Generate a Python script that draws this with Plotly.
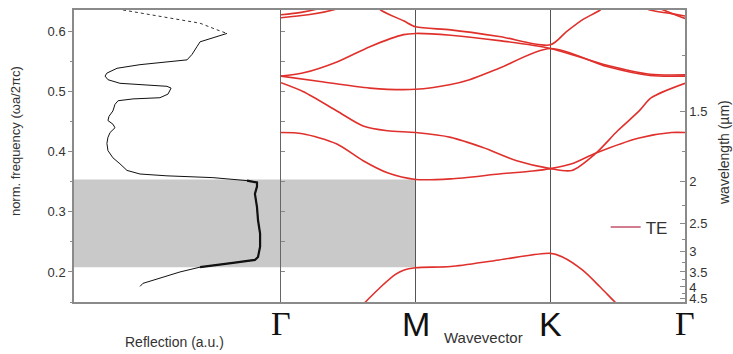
import plotly.graph_objects as go

# ---------------- data ----------------
# Reflection spectrum (arbitrary units) vs normalized frequency
refl_val = [0.237, 0.367, 0.478, 0.609, 0.691, 0.739, 0.671, 0.609, 0.594, 0.570, 0.546,
            0.449, 0.319, 0.208, 0.159, 0.150, 0.164, 0.222, 0.352, 0.449, 0.469, 0.454,
            0.415, 0.285, 0.213, 0.198, 0.188, 0.169, 0.164, 0.188, 0.198, 0.174, 0.164,
            0.159, 0.164, 0.188, 0.222, 0.256, 0.319, 0.449, 0.671, 0.836, 0.884, 0.884,
            0.874, 0.884, 0.889, 0.899, 0.899, 0.889, 0.874, 0.768, 0.609, 0.512, 0.415,
            0.333, 0.319]
refl_freq = [0.636, 0.628, 0.622, 0.614, 0.603, 0.597, 0.589, 0.583, 0.575, 0.562, 0.553,
             0.550, 0.545, 0.539, 0.531, 0.526, 0.520, 0.514, 0.511, 0.509, 0.506, 0.496,
             0.490, 0.488, 0.485, 0.479, 0.468, 0.459, 0.452, 0.446, 0.440, 0.432, 0.424,
             0.414, 0.402, 0.390, 0.380, 0.369, 0.363, 0.360, 0.357, 0.352, 0.349, 0.342,
             0.330, 0.308, 0.286, 0.264, 0.242, 0.225, 0.220, 0.215, 0.208, 0.200, 0.190,
             0.181, 0.176]
stopband = [0.208, 0.354]  # photonic band gap (shaded)

# Band structure (TE): k path Γ=0, M=1, K=2, Γ=3
k_labels = ["Γ", "M", "K", "Γ"]
band1_k = [0.55, 0.627, 0.74, 0.85, 0.91, 1.0, 1.26, 1.62, 2.0, 2.09, 2.24, 2.37, 2.48, 2.56]
band1_f = [0.133, 0.150, 0.175, 0.196, 0.203, 0.207, 0.209, 0.220, 0.231, 0.225, 0.203, 0.175, 0.150, 0.133]
band2_k = [0.0, 0.16, 0.415, 0.61, 0.79, 1.0, 1.26, 1.62, 1.87, 2.0, 2.16, 2.34, 2.66, 2.9, 3.0]
band2_f = [0.432, 0.430, 0.413, 0.385, 0.365, 0.354, 0.355, 0.363, 0.368, 0.372, 0.380, 0.398, 0.423, 0.432, 0.432]
band3_k = [0.0, 0.167, 0.415, 0.61, 0.79, 1.0, 1.26, 1.5, 1.75, 2.0, 2.16, 2.34, 2.5, 2.66, 2.75, 3.0]
band3_f = [0.515, 0.500, 0.468, 0.443, 0.435, 0.432, 0.424, 0.407, 0.385, 0.372, 0.369, 0.398, 0.435, 0.468, 0.490, 0.514]
band4_k = [0.0, 0.29, 0.66, 1.0, 1.26, 1.4, 1.62, 2.0, 2.42, 2.74, 3.0]
band4_f = [0.526, 0.517, 0.506, 0.504, 0.512, 0.520, 0.539, 0.572, 0.542, 0.527, 0.526]
band5_k = [0.0, 0.16, 0.42, 0.66, 0.91, 1.0, 1.26, 1.62, 2.0, 2.42, 2.74, 3.0]
band5_f = [0.526, 0.531, 0.550, 0.575, 0.595, 0.597, 0.594, 0.585, 0.572, 0.544, 0.529, 0.528]
band6_k = [0.62, 0.74, 0.91, 1.0, 1.26, 1.62, 2.0, 2.12, 2.24, 2.37, 2.47]
band6_f = [0.660, 0.636, 0.618, 0.608, 0.603, 0.592, 0.578, 0.600, 0.620, 0.636, 0.655]
band7_k = [0.0, 0.15, 0.31, 0.45]
band7_f = [0.628, 0.632, 0.640, 0.650]
band8_k = [0.0, 0.2, 0.4, 0.55]
band8_f = [0.623, 0.628, 0.637, 0.650]
band9_k = [2.6, 2.74, 2.9, 3.0]
band9_f = [0.650, 0.636, 0.630, 0.626]
band10_k = [2.7, 2.84, 2.95, 3.0]
band10_f = [0.648, 0.636, 0.626, 0.622]

lattice_a = 0.7  # µm, wavelength = a / f
wl_major = [1.5, 2, 2.5, 3, 3.5, 4, 4.5]
wl_minor = [1.25, 1.75, 2.25, 2.75, 3.25, 3.75, 4.25]

# ---------------- figure ----------------
W, H = 733, 354
ml, mr, mt, mb = 74, 48, 8, 52
split = (281 - ml) / (W - ml - mr)
yr = [0.15, 0.636]
axis_col = "#8a8a8a"
txt_col = "#333333"
band_col = "#e0302c"

fig = go.Figure()

# reflection spectrum
n_dot = 6
fig.add_trace(go.Scatter(x=refl_val[:n_dot], y=refl_freq[:n_dot], mode="lines",
                         line=dict(color="#333", width=1, dash="dot"),
                         xaxis="x", yaxis="y", showlegend=False))
fig.add_trace(go.Scatter(x=refl_val[n_dot - 1:], y=refl_freq[n_dot - 1:], mode="lines",
                         line=dict(color="#111", width=1),
                         xaxis="x", yaxis="y", showlegend=False))
gap_pts = [(v, f) for v, f in zip(refl_val, refl_freq) if stopband[0] <= f <= stopband[1] + 0.001]
fig.add_trace(go.Scatter(x=[p[0] for p in gap_pts], y=[p[1] for p in gap_pts], mode="lines",
                         line=dict(color="#111", width=2.2),
                         xaxis="x", yaxis="y", showlegend=False))

bands = [(band1_k, band1_f), (band2_k, band2_f), (band3_k, band3_f), (band4_k, band4_f),
         (band5_k, band5_f), (band6_k, band6_f), (band7_k, band7_f), (band8_k, band8_f),
         (band9_k, band9_f), (band10_k, band10_f)]
for bk, bf in bands:
    fig.add_trace(go.Scatter(x=bk, y=bf, mode="lines", line=dict(color=band_col, width=1.6, shape="spline", smoothing=0.8),
                             xaxis="x2", yaxis="y2", showlegend=False, cliponaxis=True))

# invisible traces so the wavelength axes are drawn
for ya in ["y3", "y4"]:
    fig.add_trace(go.Scatter(x=[None], y=[None], mode="lines", xaxis="x2", yaxis=ya,
                             showlegend=False, hoverinfo="skip"))

# legend entry
fig.add_trace(go.Scatter(x=[None], y=[None], mode="lines", name="TE",
                         line=dict(color="#c2506a", width=1.5), xaxis="x2", yaxis="y2", showlegend=True))

# band gap shading (from left axis to M)
m_paper = split + (1 / 3) * (1 - split)
fig.add_shape(type="rect", xref="paper", yref="y", x0=0, x1=m_paper, y0=stopband[0], y1=stopband[1],
              fillcolor="#c9c9c9", line=dict(width=0), layer="below")

fig.update_layout(
    width=W, height=H,
    margin=dict(l=ml, r=mr, t=mt, b=mb),
    paper_bgcolor="white", plot_bgcolor="rgba(0,0,0,0)",
    font=dict(family="Liberation Sans, Arial, sans-serif", color=txt_col, size=13),
    xaxis=dict(domain=[0, split], range=[0, 1], showticklabels=False, ticks="", showgrid=False,
               zeroline=False, showline=True, linecolor=axis_col, linewidth=1.5, mirror=True),
    yaxis=dict(domain=[0, 1], range=yr, tickvals=[0.2, 0.3, 0.4, 0.5, 0.6],
               ticktext=["0.2", "0.3", "0.4", "0.5", "0.6"], ticks="outside", ticklen=4,
               tickcolor=axis_col, showgrid=False, zeroline=False, showline=True,
               linecolor=axis_col, linewidth=1.5, tickfont=dict(size=13, color=txt_col),
               minor=dict(dtick=0.05, ticks="outside", ticklen=2, tickcolor=axis_col), anchor="x"),
    xaxis2=dict(domain=[split, 1], range=[0, 3], tickvals=[1, 2], showticklabels=False, ticks="",
                showgrid=True, gridcolor="#555555", gridwidth=1, zeroline=False,
                showline=True, linecolor=axis_col, linewidth=1.5, mirror=True, anchor="y2"),
    yaxis2=dict(domain=[0, 1], range=yr, anchor="x2", showticklabels=False,
                tickvals=[0.2, 0.25, 0.3, 0.35, 0.4, 0.45, 0.5, 0.55, 0.6], ticks="inside", ticklen=4,
                tickcolor=axis_col, showgrid=False, zeroline=False, showline=True,
                linecolor="#666666", linewidth=1.2),
    yaxis3=dict(overlaying="y2", anchor="x2", side="right", range=yr,
                tickvals=[lattice_a / w for w in wl_major], ticktext=[f"{w:g}" for w in wl_major],
                ticks="inside", ticklen=5, tickcolor=axis_col, showgrid=False, zeroline=False,
                showline=True, linecolor=axis_col, linewidth=1.5,
                tickfont=dict(size=13, color=txt_col)),
    yaxis4=dict(overlaying="y2", anchor="x2", side="right", range=yr,
                tickvals=[lattice_a / w for w in wl_minor], showticklabels=False,
                ticks="inside", ticklen=3, tickcolor=axis_col, showgrid=False, zeroline=False,
                showline=False),
    legend=dict(x=0.925, y=0.255, xanchor="center", yanchor="middle", bgcolor="rgba(0,0,0,0)",
                font=dict(size=17, color=txt_col)),
)

# k-point labels
pw = W - ml - mr
for i, lab in enumerate(k_labels):
    xp = split + i / 3 * (1 - split)
    fam = "Liberation Serif, Times New Roman, serif" if lab == "Γ" else "Liberation Sans, Arial, sans-serif"
    fig.add_annotation(text=lab, xref="paper", yref="paper", x=xp, y=-0.005, xanchor="center",
                       yanchor="top", showarrow=False, font=dict(size=34, color="#111", family=fam))

fig.add_annotation(text="Wavevector", xref="paper", yref="paper", x=(483 - ml) / pw, y=(H - mb - 338) / (H - mt - mb),
                   xanchor="center", yanchor="middle", showarrow=False, font=dict(size=15, color=txt_col))
fig.add_annotation(text="Reflection (a.u.)", xref="paper", yref="paper", x=(174 - ml) / pw,
                   y=(H - mb - 342) / (H - mt - mb), xanchor="center", yanchor="middle", showarrow=False,
                   font=dict(size=14, color=txt_col))
fig.add_annotation(text="norm. frequency (ωa/2πc)", xref="paper", yref="paper", x=(15 - ml) / pw,
                   y=(H - mb - 140) / (H - mt - mb), xanchor="center", yanchor="middle", showarrow=False,
                   textangle=-90, font=dict(size=13, color=txt_col))
fig.add_annotation(text="wavelength (µm)", xref="paper", yref="paper", x=(724 - ml) / pw,
                   y=(H - mb - 152) / (H - mt - mb), xanchor="center", yanchor="middle", showarrow=False,
                   textangle=-90, font=dict(size=14, color=txt_col))

fig.write_html("out.html")
